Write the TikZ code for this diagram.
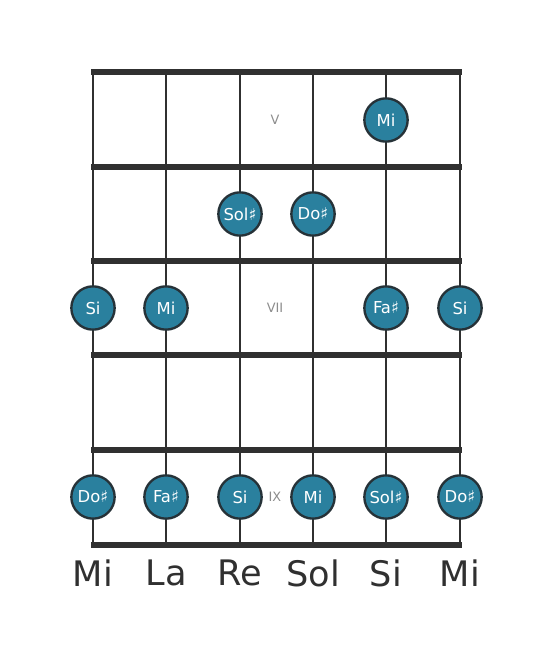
\documentclass[tikz,border=0pt]{standalone}
\usepackage{fontspec}
\setmainfont{DejaVu Sans}
\definecolor{dotblue}{RGB}{42,128,158}
\definecolor{linegray}{RGB}{48,48,48}
\definecolor{dotedge}{RGB}{38,50,56}
\tikzset{
  fret/.style={line width=4.4pt, linegray},
  string/.style={line width=2.4pt, linegray},
  note/.style={circle, draw=dotedge, line width=2pt, fill=dotblue, minimum size=1.3cm, inner sep=0pt, text=white, font=\fontsize{14}{14}\selectfont},
  fretnum/.style={text=gray!90, font=\fontsize{11}{11}\selectfont},
  tuning/.style={text=linegray, font=\fontsize{30}{30}\selectfont}
}
\begin{document}
\begin{tikzpicture}[x=0.03cm, y=-0.03cm]
\useasboundingbox (0,0) rectangle (553,656);
%\draw[step=10,gray,very thin] (0,0) grid (553,656);
\draw[string] (93,72) -- (93,545);
\draw[string] (166,72) -- (166,545);
\draw[string] (240,72) -- (240,545);
\draw[string] (313,72) -- (313,545);
\draw[string] (386,72) -- (386,545);
\draw[string] (460,72) -- (460,545);
\draw[fret] (91,72) -- (462,72);
\draw[fret] (91,167) -- (462,167);
\draw[fret] (91,261) -- (462,261);
\draw[fret] (91,355) -- (462,355);
\draw[fret] (91,450) -- (462,450);
\draw[fret] (91,545) -- (462,545);

%------------------------------------------------
\node[fretnum] (v) at (275,120) {V};
\node[fretnum] (vii) at (275,308) {VII};
\node[fretnum] (ix) at (275,497) {IX};

\node[note] (miV) at (386,120) {Mi};
\node[note] (solVI) at (240,214) {Sol♯};
\node[note] (doVI) at (313,214) {Do♯};
\node[note] (siVIIa) at (93,308) {Si};
\node[note] (miVII) at (166,308) {Mi};
\node[note] (faVII) at (386,308) {Fa♯};
\node[note] (siVIIb) at (460,308) {Si};
\node[note] (doIXa) at (93,497) {Do♯};
\node[note] (faIX) at (166,497) {Fa♯};
\node[note] (siIX) at (240,497) {Si};
\node[note] (miIX) at (313,497) {Mi};
\node[note] (solIX) at (386,497) {Sol♯};
\node[note] (doIXb) at (460,497) {Do♯};

%------------------------------------------------
\node[tuning] (t1) at (93,573) {Mi};
\node[tuning] (t2) at (166,573) {La};
\node[tuning] (t3) at (240,573) {Re};
\node[tuning] (t4) at (313,573) {Sol};
\node[tuning] (t5) at (386,573) {Si};
\node[tuning] (t6) at (460,573) {Mi};
\end{tikzpicture}
\end{document}
